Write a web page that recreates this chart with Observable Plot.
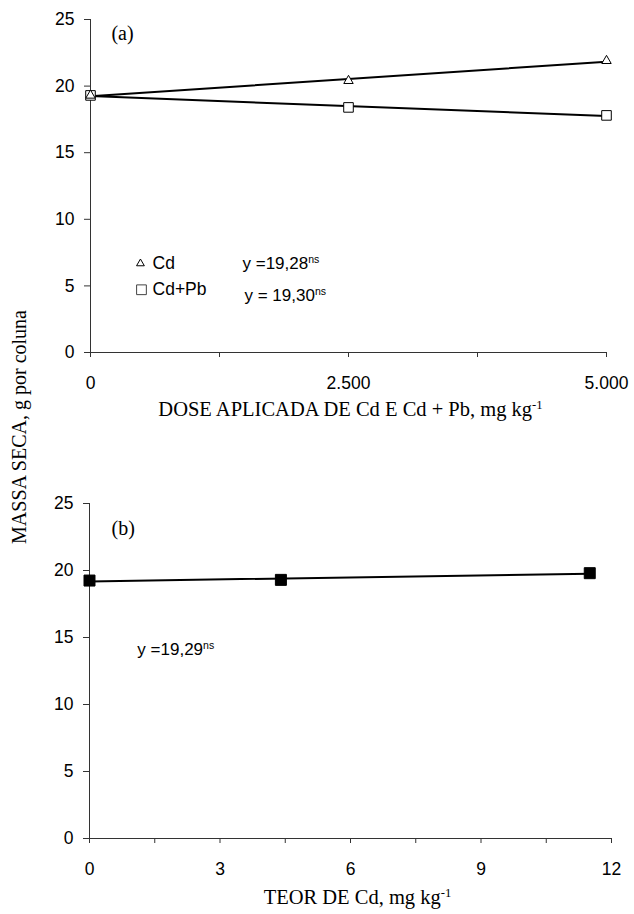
<!DOCTYPE html>
<html><head><meta charset="utf-8">
<script src="https://cdn.jsdelivr.net/npm/d3@7"></script>
<script src="https://cdn.jsdelivr.net/npm/@observablehq/plot@0.6"></script>
<style>
body{margin:0;background:#fff;}
#wrap{position:relative;width:634px;height:914px;background:#fff;}
#ylab{position:absolute;left:19px;top:427px;transform:translate(-50%,-50%) rotate(-90deg);font-family:"Liberation Serif","Times New Roman",serif;font-size:20px;white-space:nowrap;color:#000;}
#top,#bot{position:absolute;left:0;}
#top{top:0px}
#bot{top:440px}
</style></head><body>
<div id="wrap"><div id="top"></div><div id="bot"></div><div id="ylab">MASSA SECA, g por coluna</div></div>
<script>
// ---- data ----
const doseA = [0, 2500, 5000];
const massCd = [19.3, 20.4, 21.9];
const massCdPb = [19.3, 18.4, 17.8];
const teorB = [0, 4.4, 11.5];
const massB = [19.25, 19.3, 19.8];
const yTicks = [0, 5, 10, 15, 20, 25];
const xTicksA = [0, 1250, 2500, 3750, 5000];
const xTickLabelsA = ["0", "", "2.500", "", "5.000"];
const xTicksB = [0, 1.5, 3, 4.5, 6, 7.5, 9, 10.5, 12];
const xTickLabelsB = ["0", "", "3", "", "6", "", "9", "", "12"];
const xLabelA = "DOSE APLICADA DE Cd E Cd + Pb, mg kg^-1";
const xLabelB = "TEOR DE Cd, mg kg^-1";
const eqCd = "y =19,28^ns";
const eqCdPb = "y = 19,30^ns";
const eqB = "y =19,29^ns";
const legendCd = "Cd";
const legendCdPb = "Cd+Pb";

const rowsCd = doseA.map((x, i) => ({x, y: massCd[i]}));
const rowsCdPb = doseA.map((x, i) => ({x, y: massCdPb[i]}));
const rowsB = teorB.map((x, i) => ({x, y: massB[i]}));

const fsans = '"Liberation Sans", Arial, sans-serif';
const fserif = '"Liberation Serif", "Times New Roman", serif';
const axisColor = "#333";

function supify(svg) {
  d3.select(svg).selectAll("text").each(function () {
    const t = this.textContent;
    if (!t.includes("^")) return;
    const [a, b] = t.split("^");
    const sel = d3.select(this);
    sel.text(null);
    sel.append("tspan").text(a);
    sel.append("tspan").attr("dy", "-0.55em").attr("font-size", "0.62em").text(b);
  });
  return svg;
}

const topPlot = Plot.plot({
  width: 634, height: 440,
  marginTop: 19, marginBottom: 88, marginLeft: 90, marginRight: 28,
  style: {fontFamily: fsans, fontSize: "17px", color: "#000", background: "#fff", overflow: "visible"},
  x: {domain: [0, 5000]},
  y: {domain: [0, 25]},
  marks: [
    Plot.axisY(yTicks, {tickSize: 6, tickPadding: 10, fontSize: 17.5, stroke: axisColor, label: null}),
    Plot.axisX(xTicksA, {tickSize: 5, tickPadding: 19, fontSize: 17.5, stroke: axisColor, label: null,
      tickFormat: d => xTickLabelsA[xTicksA.indexOf(d)]}),
    Plot.ruleX([0], {stroke: axisColor}),
    Plot.ruleY([0], {stroke: axisColor}),
    Plot.linearRegressionY(rowsCd, {x: "x", y: "y", ci: 0, stroke: "#000", strokeWidth: 2}),
    Plot.linearRegressionY(rowsCdPb, {x: "x", y: "y", ci: 0, stroke: "#000", strokeWidth: 2}),
    Plot.dot(rowsCdPb, {x: "x", y: "y", symbol: "square", r: 5.4, stroke: "#000", fill: "#fff", strokeWidth: 1}),
    Plot.dot(rowsCd, {x: "x", y: "y", symbol: "triangle", r: 3.5, stroke: "#000", fill: "#fff", strokeWidth: 1}),
    Plot.text(["(a)"], {x: 203, y: 23.95, text: d => d, textAnchor: "start", fontFamily: fserif, fontSize: 20}),
    // legend symbols
    Plot.dot([0], {x: 484, y: 6.68, symbol: "triangle", r: 2.9, stroke: "#000", fill: "#fff", strokeWidth: 1}),
    Plot.dot([0], {x: 494, y: 4.71, symbol: "square", r: 5.5, stroke: "#444", fill: "#fff", strokeWidth: 1}),
    Plot.text([legendCd], {x: 601, y: 6.71, text: d => d, textAnchor: "start", fontSize: 17.5}),
    Plot.text([legendCdPb], {x: 601, y: 4.76, text: d => d, textAnchor: "start", fontSize: 17.5}),
    Plot.text([eqCd], {x: 1473, y: 6.71, text: d => d, textAnchor: "start", fontSize: 17}),
    Plot.text([eqCdPb], {x: 1492, y: 4.31, text: d => d, textAnchor: "start", fontSize: 17}),
    Plot.text([xLabelA], {frameAnchor: "bottom", dy: 63.6, dx: 2, text: d => d, fontFamily: fserif, fontSize: 20.5})
  ]
});
document.getElementById("top").appendChild(supify(topPlot));

const botPlot = Plot.plot({
  width: 634, height: 474,
  marginTop: 63, marginBottom: 76, marginLeft: 89, marginRight: 23,
  style: {fontFamily: fsans, fontSize: "17px", color: "#000", background: "#fff", overflow: "visible"},
  x: {domain: [0, 12]},
  y: {domain: [0, 25]},
  marks: [
    Plot.axisY(yTicks, {tickSize: 6, tickPadding: 10, fontSize: 17.5, stroke: axisColor, label: null}),
    Plot.axisX(xTicksB, {tickSize: 5, tickPadding: 19, fontSize: 17.5, stroke: axisColor, label: null,
      tickFormat: d => xTickLabelsB[xTicksB.indexOf(d)]}),
    Plot.ruleX([0], {stroke: axisColor}),
    Plot.ruleY([0], {stroke: axisColor}),
    Plot.linearRegressionY(rowsB, {x: "x", y: "y", ci: 0, stroke: "#000", strokeWidth: 2}),
    Plot.dot(rowsB, {x: "x", y: "y", symbol: "square", r: 6.2, stroke: "#000", fill: "#000", strokeWidth: 1}),
    Plot.text(["(b)"], {x: 0.506, y: 23.16, text: d => d, textAnchor: "start", fontFamily: fserif, fontSize: 20}),
    Plot.text([eqB], {x: 1.10, y: 14.13, text: d => d, textAnchor: "start", fontSize: 17}),
    Plot.text([xLabelB], {frameAnchor: "bottom", dy: 65.6, dx: 7, text: d => d, fontFamily: fserif, fontSize: 20.5})
  ]
});
document.getElementById("bot").appendChild(supify(botPlot));
</script>
</body></html>
